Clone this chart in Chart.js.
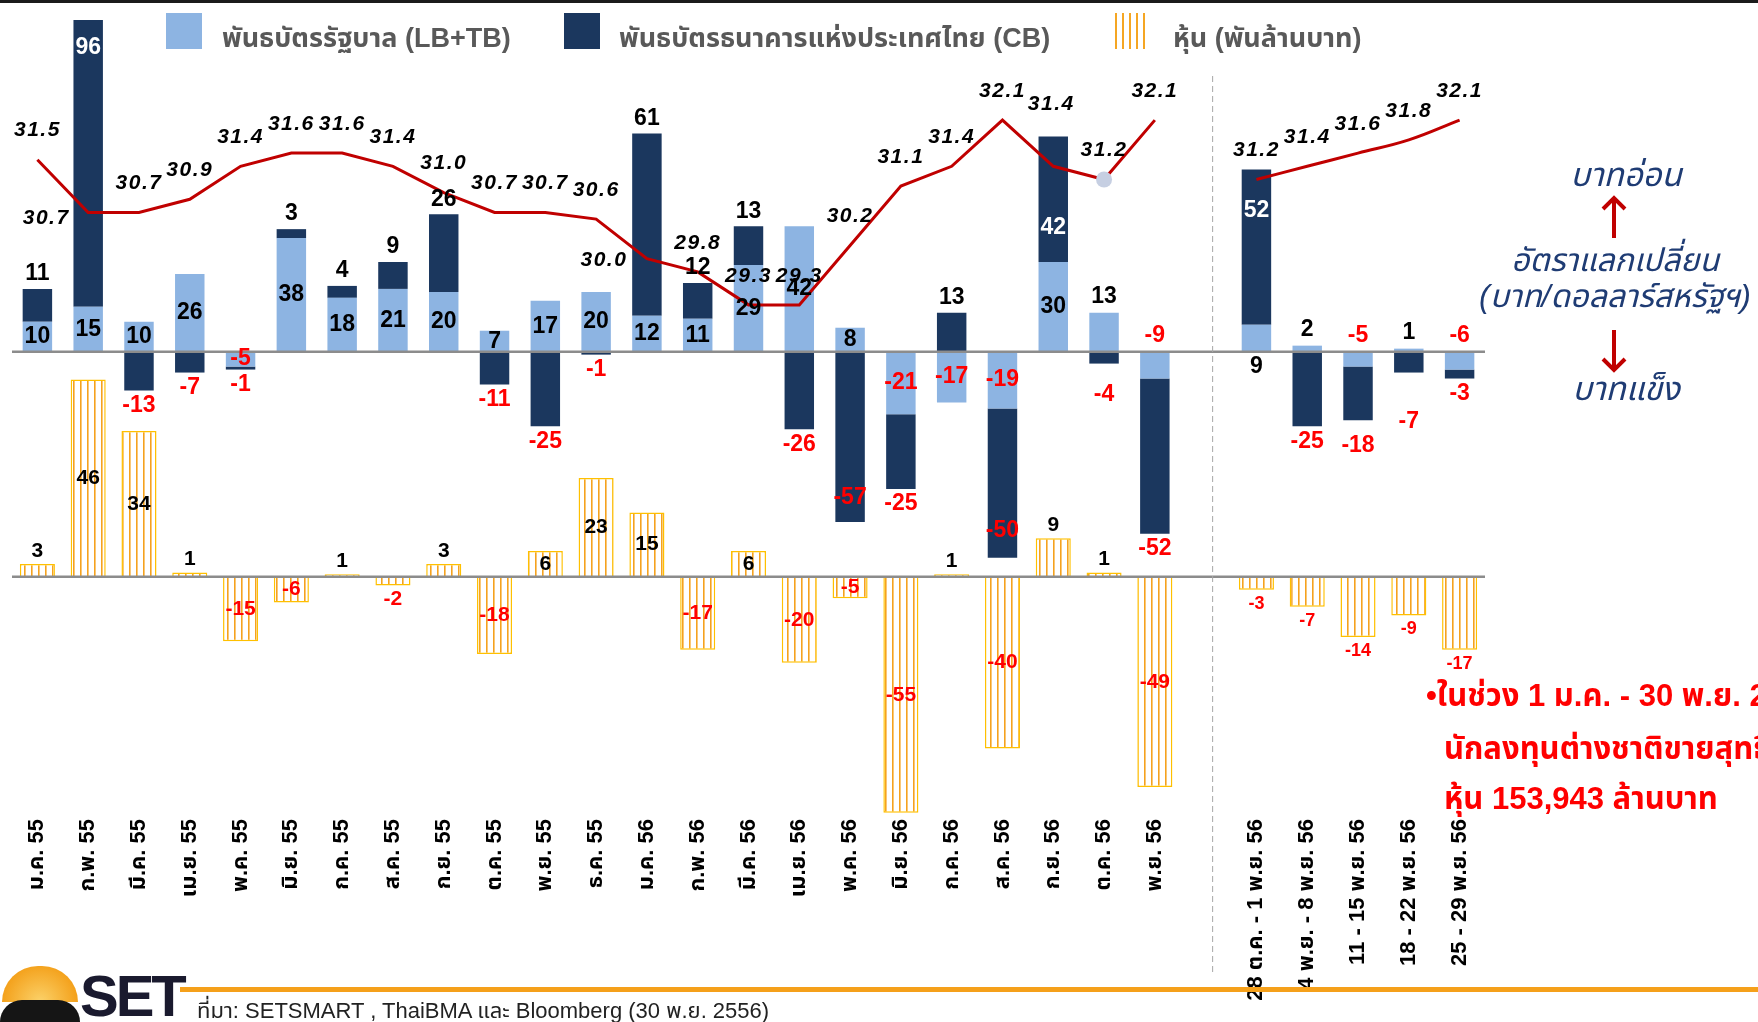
<!DOCTYPE html>
<html lang="th">
<head>
<meta charset="utf-8">
<title>เงินทุนเคลื่อนย้ายของนักลงทุนต่างชาติ</title>
<script src="https://cdn.jsdelivr.net/npm/chart.js@4.4.1/dist/chart.umd.min.js"></script>
<style>
  html, body { margin: 0; padding: 0; background: #fff; }
  body { width: 1758px; height: 1022px; position: relative; overflow: hidden;
         font-family: "Liberation Sans", Arial, "Noto Sans Thai", "Noto Sans", sans-serif; }
  #chart { position: absolute; left: 0; top: 0; }
  .topbar { position: absolute; left: 0; top: 0; width: 1758px; height: 3px; background: #1b1b1b; }
  .lg-box { position: absolute; top: 13px; width: 36px; height: 36px; }
  .lg-text { position: absolute; top: 22px; font-size: 27px; line-height: 32px; font-weight: bold; color: #595959; white-space: nowrap; }
  .fx-note { position: absolute; color: #1f3c74; font-style: italic; white-space: nowrap; transform: translateX(-50%); line-height: 1; }
  .arrow { position: absolute; }
  .red-note { position: absolute; color: #ff0000; font-weight: bold; font-size: 31px; white-space: nowrap; line-height: 1;
              font-family: "Liberation Sans Narrow", "Liberation Sans", "Noto Sans Thai", sans-serif; }
  .orange-rule { position: absolute; left: 180px; top: 987px; width: 1578px; height: 5px; background: #f5a01a; }
  .source { position: absolute; left: 197px; top: 995px; font-size: 22px; color: #222; white-space: nowrap;
            font-family: "Liberation Sans Narrow", "Liberation Sans", "Noto Sans Thai", sans-serif; }
  .logo-sun { position: absolute; left: 2px; top: 966px; width: 76px; height: 36px; border-radius: 38px 38px 0 0;
              background: radial-gradient(circle at 50% 100%, #fbd26a 0%, #f4a21d 70%); }
  .logo-wave { position: absolute; left: 0; top: 1000px; width: 80px; height: 22px; background: #151515; border-radius: 40px 40px 0 0; }
  .logo-text { position: absolute; left: 80px; top: 962px; font-size: 58px; font-weight: bold; color: #1a1a2e; letter-spacing: -3px;
               font-family: "Liberation Sans Narrow", "Liberation Sans", sans-serif; }
</style>
</head>
<body>
<canvas id="chart" width="1758" height="1022"></canvas>
<div class="topbar"></div>

<!-- legend -->
<div class="lg-box" style="left:166px;background:#8db4e2;"></div>
<div class="lg-text" style="left:222px;">พันธบัตรรัฐบาล (LB+TB)</div>
<div class="lg-box" style="left:564px;background:#1b375e;"></div>
<div class="lg-text" style="left:619px;">พันธบัตรธนาคารแห่งประเทศไทย (CB)</div>
<div class="lg-box" style="left:1115px;width:34px;background:repeating-linear-gradient(90deg,#f5a623 0 2px,#fff 2px 7px);"></div>
<div class="lg-text" style="left:1173px;">หุ้น (พันล้านบาท)</div>

<!-- exchange-rate note -->
<div class="fx-note" style="left:1626px;top:158px;font-size:33px;">บาทอ่อน</div>
<svg class="arrow" style="left:1600px;top:194px;" width="28" height="46" viewBox="0 0 28 46">
  <path d="M14 44 V4 M3 15 L14 4 L25 15" stroke="#c00000" stroke-width="4" fill="none"/>
</svg>
<div class="fx-note" style="left:1615px;top:244px;font-size:32px;">อัตราแลกเปลี่ยน</div>
<div class="fx-note" style="left:1615px;top:280px;font-size:32px;">(บาท/ดอลลาร์สหรัฐฯ)</div>
<svg class="arrow" style="left:1600px;top:328px;" width="28" height="46" viewBox="0 0 28 46">
  <path d="M14 2 V42 M3 31 L14 42 L25 31" stroke="#c00000" stroke-width="4" fill="none"/>
</svg>
<div class="fx-note" style="left:1626px;top:372px;font-size:33px;">บาทแข็ง</div>

<!-- red summary -->
<div class="red-note" style="left:1426px;top:680px;">•ในช่วง 1 ม.ค. - 30 พ.ย. 2556</div>
<div class="red-note" style="left:1444px;top:733px;">นักลงทุนต่างชาติขายสุทธิ</div>
<div class="red-note" style="left:1444px;top:783px;">หุ้น 153,943 ล้านบาท</div>

<!-- footer -->
<div class="orange-rule"></div>
<div class="logo-sun"></div>
<div class="logo-wave"></div>
<div class="logo-text">SET</div>
<div class="source">ที่มา: SETSMART , ThaiBMA และ Bloomberg (30 พ.ย. 2556)</div>

<script>
// Categories
const monthLabels = ['ม.ค. 55', 'ก.พ. 55', 'มี.ค. 55', 'เม.ย. 55', 'พ.ค. 55', 'มิ.ย. 55', 'ก.ค. 55', 'ส.ค. 55',
  'ก.ย. 55', 'ต.ค. 55', 'พ.ย. 55', 'ธ.ค. 55', 'ม.ค. 56', 'ก.พ. 56', 'มี.ค. 56', 'เม.ย. 56', 'พ.ค. 56',
  'มิ.ย. 56', 'ก.ค. 56', 'ส.ค. 56', 'ก.ย. 56', 'ต.ค. 56', 'พ.ย. 56'];
const weekLabels = ['28 ต.ค. - 1 พ.ย. 56', '4 พ.ย. - 8 พ.ย. 56', '11 - 15 พ.ย. 56', '18 - 22 พ.ย. 56', '25 - 29 พ.ย. 56'];

// Net flows, พันล้านบาท
const govBondsMonthly = [10, 15, 10, 26, -5, 38, 18, 21, 20, 7, 17, 20, 12, 11, 29, 42, 8, -21, -17, -19, 30, 13, -9];
const govBondsWeekly = [9, 2, -5, 1, -6];
const bankBondsMonthly = [11, 96, -13, -7, -1, 3, 4, 9, 26, -11, -25, -1, 61, 12, 13, -26, -57, -25, 13, -50, 42, -4, -52];
const bankBondsWeekly = [52, -25, -18, -7, -3];
const stocksMonthly = [3, 46, 34, 1, -15, -6, 0.6, -2, 3, -18, 6, 23, 15, -17, 6, -20, -5, -55, 0.6, -40, 9, 1, -49];
const stocksWeekly = [-3, -7, -14, -9, -17];

// Baht per US dollar
const fxMonthly = [31.5, 30.7, 30.7, 30.9, 31.4, 31.6, 31.6, 31.4, 31.0, 30.7, 30.7, 30.6, 30.0, 29.8, 29.3, 29.3,
  30.2, 31.1, 31.4, 32.1, 31.4, 31.2, 32.1];
const fxWeekly = [31.2, 31.4, 31.6, 31.8, 32.1];

const categories = [...monthLabels, '', ...weekLabels];
const nulls = n => Array(n).fill(null);
const joinSeries = (m, w) => [...m, null, ...w];

const FONT = '"Liberation Sans", Arial, "Noto Sans Thai", "Noto Sans", sans-serif';
const RED = '#ff0000';
const GAP_INDEX = monthLabels.length;

// hatched fill for stocks
function stripes() {
  const c = document.createElement('canvas');
  c.width = 7; c.height = 8;
  const g = c.getContext('2d');
  g.fillStyle = '#ffffff';
  g.fillRect(0, 0, 7, 8);
  g.fillStyle = '#f5a21e';
  g.fillRect(3, 0, 1.6, 8);
  return g.createPattern(c, 'repeat');
}

// label placement tweaks
const lbAbove = [21, 22, 25, 26, 27, 28];
const lbBelow = [24];
const cbInsideTop = { 1: 28, 20: 91, 24: 41 };
const cbInsideBottom = { 16: 24, 19: 27 };
const cbExtraDrop = { 21: 16, 26: 10, 27: 34 };
const stockOutside = [0, 3, 6, 7, 8, 18, 20, 21, 24, 25, 26, 27, 28];
const fxOffsets = { 1: [-42, 6], 12: [-43, 2], 20: [-2, -62] };

function txt(ctx, s, x, y, color, font) {
  ctx.font = font;
  ctx.fillStyle = color;
  ctx.fillText(s, x, y);
}

const overlayPlugin = {
  id: 'overlay',
  afterDatasetsDraw(chart) {
    const ctx = chart.ctx;
    const area = chart.chartArea;
    const yB = chart.scales.yBond, yS = chart.scales.yStock;
    ctx.save();

    // zero lines
    ctx.strokeStyle = '#8c8c8c';
    ctx.lineWidth = 2.5;
    [yB.getPixelForValue(0), yS.getPixelForValue(0)].forEach(y => {
      ctx.beginPath();
      ctx.moveTo(area.left, y);
      ctx.lineTo(area.right, y);
      ctx.stroke();
    });

    ctx.textAlign = 'center';
    ctx.textBaseline = 'middle';
    const bondFont = 'bold 23px ' + FONT;

    chart.data.datasets.forEach((ds, di) => {
      const meta = chart.getDatasetMeta(di);
      meta.data.forEach((el, i) => {
        const v = ds.data[i];
        if (v === null || v === undefined) return;
        const top = Math.min(el.y, el.base);
        const shown = String(Math.round(v));
        const col = v < 0 ? RED : '#000';

        if (ds.key === 'lb') {
          let y = (el.y + el.base) / 2;
          if (lbAbove.includes(i)) y = Math.min(top, yB.getPixelForValue(0)) - 16;
          if (lbBelow.includes(i)) y = yB.getPixelForValue(0) + 15;
          txt(ctx, shown, el.x, y, col, bondFont);
        } else if (ds.key === 'cb') {
          let y, c = col;
          if (cbInsideTop[i] !== undefined) { y = el.y + cbInsideTop[i]; c = '#fff'; }
          else if (cbInsideBottom[i] !== undefined) y = el.y - cbInsideBottom[i];
          else if (v > 0) y = el.y - 15;
          else y = el.y + 15 + (cbExtraDrop[i] || 0);
          txt(ctx, shown, el.x, y, c, bondFont);
        } else if (ds.key === 'stock') {
          const f = 'bold ' + (i > GAP_INDEX ? 18 : 21) + 'px ' + FONT;
          let y = (el.y + el.base) / 2;
          if (stockOutside.includes(i)) y = v > 0 ? el.y - 13 : el.y + 14;
          txt(ctx, shown, el.x, y, col, f);
        } else if (ds.key === 'fxM' || ds.key === 'fxW') {
          const off = (ds.key === 'fxM' && fxOffsets[i]) || [0, -29];
          ctx.letterSpacing = '1.5px';
          txt(ctx, v.toFixed(1), el.x + off[0], el.y + off[1], '#000', 'italic bold 21px ' + FONT);
          ctx.letterSpacing = '0px';
        }
      });
    });
    ctx.restore();
  },
  afterDraw(chart) {
    // dashed separator between monthly and weekly data
    const ctx = chart.ctx;
    const x = chart.scales.x.getPixelForValue(GAP_INDEX) + 7;
    ctx.save();
    ctx.strokeStyle = '#a6a6a6';
    ctx.lineWidth = 1;
    ctx.setLineDash([6, 4]);
    ctx.beginPath();
    ctx.moveTo(x, 76);
    ctx.lineTo(x, 975);
    ctx.stroke();
    ctx.restore();
  }
};

Chart.defaults.font.family = FONT;

const chart = new Chart(document.getElementById('chart'), {
  type: 'bar',
  data: {
    labels: categories,
    datasets: [
      {
        key: 'lb', label: 'พันธบัตรรัฐบาล (LB+TB)', data: joinSeries(govBondsMonthly, govBondsWeekly),
        yAxisID: 'yBond', stack: 'bond', grouped: false, backgroundColor: '#8db4e2',
        barPercentage: 0.58, categoryPercentage: 1, order: 2
      },
      {
        key: 'cb', label: 'พันธบัตรธนาคารแห่งประเทศไทย (CB)', data: joinSeries(bankBondsMonthly, bankBondsWeekly),
        yAxisID: 'yBond', stack: 'bond', grouped: false, backgroundColor: '#1b375e',
        barPercentage: 0.58, categoryPercentage: 1, order: 2
      },
      {
        key: 'stock', label: 'หุ้น (พันล้านบาท)', data: joinSeries(stocksMonthly, stocksWeekly),
        yAxisID: 'yStock', grouped: false, backgroundColor: stripes(), borderColor: '#ffc000', borderWidth: 1.5,
        barPercentage: 0.69, categoryPercentage: 1, order: 3
      },
      {
        key: 'fxM', type: 'line', label: 'อัตราแลกเปลี่ยน', data: [...fxMonthly, ...nulls(weekLabels.length + 1)],
        yAxisID: 'yFx', borderColor: '#c00000', borderWidth: 3, tension: 0, spanGaps: false,
        pointRadius: c => (c.dataIndex === 21 ? 8 : 0), pointBackgroundColor: '#c6cfe2', pointBorderWidth: 0, order: 0
      },
      {
        key: 'fxW', type: 'line', label: 'อัตราแลกเปลี่ยน (รายสัปดาห์)', data: [...nulls(GAP_INDEX + 1), ...fxWeekly],
        yAxisID: 'yFx', borderColor: '#c00000', borderWidth: 3, tension: 0.4, pointRadius: 0, order: 0
      }
    ]
  },
  options: {
    responsive: false,
    animation: false,
    layout: { padding: { left: 12, right: 273, top: 0, bottom: 0 } },
    plugins: { legend: { display: false }, tooltip: { enabled: false } },
    scales: {
      x: {
        grid: { display: false, drawTicks: false },
        border: { display: false },
        ticks: {
          autoSkip: false, minRotation: 90, maxRotation: 90, padding: 4, color: '#000',
          font: { size: 22, weight: 'bold' }
        },
        afterFit: s => { s.height = 207; }
      },
      yBond: { display: false, stacked: true, min: -155.1, max: 117.7 },
      yStock: { display: false, min: -55.5, max: 134.4 },
      yFx: { display: false, min: 21.57, max: 33.92 }
    }
  },
  plugins: [overlayPlugin]
});
</script>
</body>
</html>
